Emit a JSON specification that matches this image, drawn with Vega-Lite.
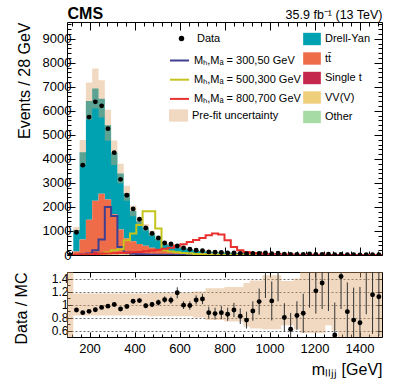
{
  "$schema": "https://vega.github.io/schema/vega-lite/v6.json",
  "padding": {"left": 12, "top": 5, "right": 5, "bottom": 2},
  "config": {
    "font": "Liberation Sans",
    "view": {"stroke": "#000", "strokeWidth": 1},
    "axis": {"domain": false, "grid": false, "tickColor": "#000", "labelColor": "#000", "titleColor": "#000", "titleFontWeight": "normal", "zindex": 1, "tickWidth": 1, "labelFontSize": 13, "titleFontSize": 16, "labelOverlap": false, "labelFlush": false},
    "legend": {"labelFontSize": 11, "labelColor": "#000", "labelLimit": 400, "orient": "none", "padding": 0}
  },
  "datasets": {
    "procs": [
      {"key": "dy", "name": "Drell-Yan", "k": 5},
      {"key": "tt", "name": "tt̄", "k": 4},
      {"key": "st", "name": "Single t", "k": 3},
      {"key": "vv", "name": "VV(V)", "k": 2},
      {"key": "ot", "name": "Other", "k": 1}
    ],
    "sigs": [
      {"key": "a", "name": "Mₕ,Mₐ = 300,50 GeV"},
      {"key": "b", "name": "Mₕ,Mₐ = 500,300 GeV"},
      {"key": "c", "name": "Mₕ,Mₐ = 800,700 GeV"}
    ],
    "hist": [
      {"x": 100, "dy": 0, "tt": 0, "st": 0, "vv": 0, "ot": 0},
      {"x": 128, "dy": 890, "tt": 120, "st": 10, "vv": 15, "ot": 5},
      {"x": 156, "dy": 3630, "tt": 580, "st": 25, "vv": 30, "ot": 10},
      {"x": 184, "dy": 4938, "tt": 1375, "st": 45, "vv": 40, "ot": 12},
      {"x": 212, "dy": 4670, "tt": 2140, "st": 60, "vv": 45, "ot": 15},
      {"x": 240, "dy": 3950, "tt": 2420, "st": 70, "vv": 45, "ot": 15},
      {"x": 268, "dy": 3090, "tt": 2180, "st": 70, "vv": 45, "ot": 15},
      {"x": 296, "dy": 2568, "tt": 1580, "st": 60, "vv": 40, "ot": 12},
      {"x": 324, "dy": 2333, "tt": 960, "st": 50, "vv": 35, "ot": 12},
      {"x": 352, "dy": 1880, "tt": 610, "st": 40, "vv": 30, "ot": 10},
      {"x": 380, "dy": 1255, "tt": 500, "st": 35, "vv": 30, "ot": 10},
      {"x": 408, "dy": 942, "tt": 400, "st": 30, "vv": 25, "ot": 8},
      {"x": 436, "dy": 765, "tt": 330, "st": 25, "vv": 22, "ot": 8},
      {"x": 464, "dy": 593, "tt": 260, "st": 20, "vv": 20, "ot": 7},
      {"x": 492, "dy": 450, "tt": 200, "st": 16, "vv": 18, "ot": 6},
      {"x": 520, "dy": 277, "tt": 150, "st": 13, "vv": 15, "ot": 5},
      {"x": 548, "dy": 270, "tt": 130, "st": 11, "vv": 14, "ot": 5},
      {"x": 576, "dy": 195, "tt": 100, "st": 9, "vv": 12, "ot": 4},
      {"x": 604, "dy": 182, "tt": 85, "st": 8, "vv": 11, "ot": 4},
      {"x": 632, "dy": 152, "tt": 70, "st": 7, "vv": 10, "ot": 3},
      {"x": 660, "dy": 109, "tt": 55, "st": 6, "vv": 9, "ot": 3},
      {"x": 688, "dy": 102, "tt": 48, "st": 5, "vv": 8, "ot": 3},
      {"x": 716, "dy": 92, "tt": 42, "st": 5, "vv": 7, "ot": 2},
      {"x": 744, "dy": 82, "tt": 37, "st": 4, "vv": 7, "ot": 2},
      {"x": 772, "dy": 74, "tt": 32, "st": 4, "vv": 6, "ot": 2},
      {"x": 800, "dy": 66, "tt": 28, "st": 3, "vv": 6, "ot": 2},
      {"x": 828, "dy": 59, "tt": 25, "st": 3, "vv": 5, "ot": 2},
      {"x": 856, "dy": 53, "tt": 22, "st": 3, "vv": 5, "ot": 1},
      {"x": 884, "dy": 49, "tt": 19, "st": 2, "vv": 4, "ot": 1},
      {"x": 912, "dy": 43, "tt": 17, "st": 2, "vv": 4, "ot": 1},
      {"x": 940, "dy": 38, "tt": 15, "st": 2, "vv": 4, "ot": 1},
      {"x": 968, "dy": 34, "tt": 13, "st": 2, "vv": 3, "ot": 1},
      {"x": 996, "dy": 31, "tt": 11, "st": 1, "vv": 3, "ot": 1},
      {"x": 1024, "dy": 27, "tt": 10, "st": 1, "vv": 3, "ot": 1},
      {"x": 1052, "dy": 24, "tt": 9, "st": 1, "vv": 3, "ot": 1},
      {"x": 1080, "dy": 22, "tt": 8, "st": 1, "vv": 2, "ot": 1},
      {"x": 1108, "dy": 19, "tt": 7, "st": 1, "vv": 2, "ot": 1},
      {"x": 1136, "dy": 17, "tt": 6, "st": 1, "vv": 2, "ot": 1},
      {"x": 1164, "dy": 16, "tt": 5, "st": 1, "vv": 2, "ot": 0},
      {"x": 1192, "dy": 13, "tt": 5, "st": 1, "vv": 2, "ot": 0},
      {"x": 1220, "dy": 12, "tt": 4, "st": 1, "vv": 2, "ot": 0},
      {"x": 1248, "dy": 12, "tt": 4, "st": 0, "vv": 1, "ot": 0},
      {"x": 1276, "dy": 11, "tt": 3, "st": 0, "vv": 1, "ot": 0},
      {"x": 1304, "dy": 9.5, "tt": 3, "st": 0, "vv": 1, "ot": 0},
      {"x": 1332, "dy": 8, "tt": 3, "st": 0, "vv": 1, "ot": 0},
      {"x": 1360, "dy": 7.7, "tt": 2, "st": 0, "vv": 1, "ot": 0},
      {"x": 1388, "dy": 6.5, "tt": 2, "st": 0, "vv": 1, "ot": 0},
      {"x": 1416, "dy": 5.5, "tt": 2, "st": 0, "vv": 1, "ot": 0},
      {"x": 1444, "dy": 4.6, "tt": 2, "st": 0, "vv": 1, "ot": 0},
      {"x": 1472, "dy": 4.8, "tt": 1, "st": 0, "vv": 1, "ot": 0},
      {"x": 1500, "dy": 4.8, "tt": 1, "st": 0, "vv": 1, "ot": 0}
    ],
    "mband": [
      {"x": 100, "lo": 0, "hi": 0},
      {"x": 128, "lo": 915, "hi": 1165},
      {"x": 156, "lo": 3762, "hi": 4788},
      {"x": 184, "lo": 5641, "hi": 7179},
      {"x": 212, "lo": 6098, "hi": 7762},
      {"x": 240, "lo": 5720, "hi": 7280},
      {"x": 268, "lo": 4752, "hi": 6048},
      {"x": 296, "lo": 3749, "hi": 4771},
      {"x": 324, "lo": 2983, "hi": 3797},
      {"x": 352, "lo": 2262, "hi": 2878},
      {"x": 380, "lo": 1610, "hi": 2050},
      {"x": 408, "lo": 1236, "hi": 1574},
      {"x": 436, "lo": 1012, "hi": 1288},
      {"x": 464, "lo": 792, "hi": 1008},
      {"x": 492, "lo": 607, "hi": 773},
      {"x": 520, "lo": 405, "hi": 515},
      {"x": 548, "lo": 378, "hi": 482},
      {"x": 576, "lo": 282, "hi": 358},
      {"x": 604, "lo": 255, "hi": 325},
      {"x": 632, "lo": 213, "hi": 271},
      {"x": 660, "lo": 160, "hi": 204},
      {"x": 688, "lo": 136, "hi": 199},
      {"x": 716, "lo": 121, "hi": 178},
      {"x": 744, "lo": 108, "hi": 158},
      {"x": 772, "lo": 97, "hi": 142},
      {"x": 800, "lo": 86, "hi": 126},
      {"x": 828, "lo": 77, "hi": 113},
      {"x": 856, "lo": 69, "hi": 101},
      {"x": 884, "lo": 62, "hi": 90},
      {"x": 912, "lo": 55, "hi": 80},
      {"x": 940, "lo": 49, "hi": 72},
      {"x": 968, "lo": 43, "hi": 64},
      {"x": 996, "lo": 39, "hi": 56},
      {"x": 1024, "lo": 34, "hi": 50},
      {"x": 1052, "lo": 31, "hi": 46},
      {"x": 1080, "lo": 28, "hi": 41},
      {"x": 1108, "lo": 25, "hi": 36},
      {"x": 1136, "lo": 22, "hi": 32},
      {"x": 1164, "lo": 20, "hi": 29},
      {"x": 1192, "lo": 17, "hi": 25},
      {"x": 1220, "lo": 16, "hi": 23},
      {"x": 1248, "lo": 14, "hi": 20},
      {"x": 1276, "lo": 12, "hi": 18},
      {"x": 1304, "lo": 11, "hi": 16},
      {"x": 1332, "lo": 10, "hi": 14},
      {"x": 1360, "lo": 9, "hi": 13},
      {"x": 1388, "lo": 8, "hi": 11},
      {"x": 1416, "lo": 7, "hi": 10},
      {"x": 1444, "lo": 6, "hi": 9},
      {"x": 1472, "lo": 5.6, "hi": 8.2},
      {"x": 1500, "lo": 5.6, "hi": 8.2}
    ],
    "sig": [
      {"x": 100, "a": 0, "b": 0, "c": 0},
      {"x": 128, "a": 0, "b": 0, "c": 10},
      {"x": 156, "a": 10, "b": 5, "c": 20},
      {"x": 184, "a": 60, "b": 10, "c": 30},
      {"x": 212, "a": 200, "b": 20, "c": 40},
      {"x": 240, "a": 650, "b": 60, "c": 50},
      {"x": 268, "a": 2000, "b": 100, "c": 60},
      {"x": 296, "a": 1625, "b": 200, "c": 70},
      {"x": 324, "a": 330, "b": 240, "c": 80},
      {"x": 352, "a": 100, "b": 610, "c": 90},
      {"x": 380, "a": 50, "b": 900, "c": 110},
      {"x": 408, "a": 30, "b": 1250, "c": 130},
      {"x": 436, "a": 20, "b": 1820, "c": 160},
      {"x": 464, "a": 15, "b": 1820, "c": 190},
      {"x": 492, "a": 10, "b": 1100, "c": 220},
      {"x": 520, "a": 8, "b": 195, "c": 260},
      {"x": 548, "a": 6, "b": 150, "c": 300},
      {"x": 576, "a": 5, "b": 110, "c": 380},
      {"x": 604, "a": 4, "b": 80, "c": 450},
      {"x": 632, "a": 3, "b": 60, "c": 540},
      {"x": 660, "a": 2, "b": 45, "c": 620},
      {"x": 688, "a": 2, "b": 35, "c": 710},
      {"x": 716, "a": 1, "b": 25, "c": 820},
      {"x": 744, "a": 1, "b": 20, "c": 890},
      {"x": 772, "a": 1, "b": 15, "c": 850},
      {"x": 800, "a": 1, "b": 12, "c": 610},
      {"x": 828, "a": 1, "b": 10, "c": 330},
      {"x": 856, "a": 0, "b": 8, "c": 200},
      {"x": 884, "a": 0, "b": 6, "c": 120},
      {"x": 912, "a": 0, "b": 5, "c": 85},
      {"x": 940, "a": 0, "b": 4, "c": 60},
      {"x": 968, "a": 0, "b": 3, "c": 45},
      {"x": 996, "a": 0, "b": 3, "c": 35},
      {"x": 1024, "a": 0, "b": 2, "c": 28},
      {"x": 1052, "a": 0, "b": 2, "c": 22},
      {"x": 1080, "a": 0, "b": 2, "c": 18},
      {"x": 1108, "a": 0, "b": 1, "c": 14},
      {"x": 1136, "a": 0, "b": 1, "c": 11},
      {"x": 1164, "a": 0, "b": 1, "c": 9},
      {"x": 1192, "a": 0, "b": 1, "c": 7},
      {"x": 1220, "a": 0, "b": 1, "c": 6},
      {"x": 1248, "a": 0, "b": 1, "c": 5},
      {"x": 1276, "a": 0, "b": 0, "c": 4},
      {"x": 1304, "a": 0, "b": 0, "c": 3},
      {"x": 1332, "a": 0, "b": 0, "c": 3},
      {"x": 1360, "a": 0, "b": 0, "c": 2},
      {"x": 1388, "a": 0, "b": 0, "c": 2},
      {"x": 1416, "a": 0, "b": 0, "c": 2},
      {"x": 1444, "a": 0, "b": 0, "c": 1},
      {"x": 1472, "a": 0, "b": 0, "c": 1},
      {"x": 1500, "a": 0, "b": 0, "c": 1}
    ],
    "obs": [
      {"c": 114, "n": 0}, {"c": 142, "n": 950}, {"c": 170, "n": 3740}, {"c": 198, "n": 5740},
      {"c": 226, "n": 6375}, {"c": 254, "n": 6210}, {"c": 282, "n": 5260}, {"c": 310, "n": 4260},
      {"c": 338, "n": 3150}, {"c": 366, "n": 2490}, {"c": 394, "n": 1920}, {"c": 422, "n": 1490},
      {"c": 450, "n": 1125}, {"c": 478, "n": 900}, {"c": 506, "n": 710}, {"c": 534, "n": 500},
      {"c": 562, "n": 460}, {"c": 590, "n": 375}, {"c": 618, "n": 290}, {"c": 646, "n": 240},
      {"c": 674, "n": 195}, {"c": 702, "n": 180}, {"c": 730, "n": 130}, {"c": 758, "n": 114},
      {"c": 786, "n": 103}, {"c": 814, "n": 89}, {"c": 842, "n": 86}, {"c": 870, "n": 69},
      {"c": 898, "n": 57}, {"c": 926, "n": 60}, {"c": 954, "n": 63}, {"c": 982, "n": 85},
      {"c": 1010, "n": 50}, {"c": 1038, "n": 70}, {"c": 1066, "n": 30}, {"c": 1094, "n": 21},
      {"c": 1122, "n": 25}, {"c": 1150, "n": 23}, {"c": 1178, "n": 42}, {"c": 1206, "n": 25},
      {"c": 1234, "n": 25}, {"c": 1262, "n": 30}, {"c": 1290, "n": 8}, {"c": 1318, "n": 19},
      {"c": 1346, "n": 11}, {"c": 1374, "n": 8}, {"c": 1402, "n": 7}, {"c": 1430, "n": 17},
      {"c": 1458, "n": 9}, {"c": 1486, "n": 8}
    ],
    "ratio": [
      {"c": 142, "r": 0.915, "lo": 0.895, "hi": 0.935},
      {"c": 170, "r": 0.875, "lo": 0.86, "hi": 0.89},
      {"c": 198, "r": 0.895, "lo": 0.88, "hi": 0.91},
      {"c": 226, "r": 0.92, "lo": 0.905, "hi": 0.935},
      {"c": 254, "r": 0.955, "lo": 0.94, "hi": 0.97},
      {"c": 282, "r": 0.975, "lo": 0.96, "hi": 0.99},
      {"c": 310, "r": 1.0, "lo": 0.98, "hi": 1.02},
      {"c": 338, "r": 0.93, "lo": 0.91, "hi": 0.95},
      {"c": 366, "r": 0.97, "lo": 0.945, "hi": 0.995},
      {"c": 394, "r": 1.05, "lo": 1.02, "hi": 1.08},
      {"c": 422, "r": 1.06, "lo": 1.025, "hi": 1.095},
      {"c": 450, "r": 0.98, "lo": 0.945, "hi": 1.015},
      {"c": 478, "r": 1.0, "lo": 0.96, "hi": 1.04},
      {"c": 506, "r": 1.03, "lo": 0.985, "hi": 1.075},
      {"c": 534, "r": 1.075, "lo": 1.025, "hi": 1.125},
      {"c": 562, "r": 1.065, "lo": 1.01, "hi": 1.12},
      {"c": 590, "r": 1.18, "lo": 1.095, "hi": 1.265},
      {"c": 618, "r": 0.99, "lo": 0.93, "hi": 1.05},
      {"c": 646, "r": 0.985, "lo": 0.92, "hi": 1.05},
      {"c": 674, "r": 1.07, "lo": 1.0, "hi": 1.14},
      {"c": 702, "r": 1.085, "lo": 1.005, "hi": 1.165},
      {"c": 730, "r": 0.875, "lo": 0.785, "hi": 0.965},
      {"c": 758, "r": 0.86, "lo": 0.77, "hi": 0.95},
      {"c": 786, "r": 0.875, "lo": 0.775, "hi": 0.975},
      {"c": 814, "r": 0.85, "lo": 0.75, "hi": 0.95},
      {"c": 842, "r": 0.915, "lo": 0.805, "hi": 1.025},
      {"c": 870, "r": 0.82, "lo": 0.7, "hi": 0.94},
      {"c": 898, "r": 0.76, "lo": 0.63, "hi": 0.89},
      {"c": 926, "r": 0.9, "lo": 0.75, "hi": 1.05},
      {"c": 954, "r": 1.045, "lo": 0.845, "hi": 1.245},
      {"c": 982, "r": 1.7, "lo": 1.1, "hi": 2.3},
      {"c": 1010, "r": 1.055, "lo": 0.755, "hi": 1.355},
      {"c": 1038, "r": 1.7, "lo": 1.05, "hi": 2.4},
      {"c": 1066, "r": 0.8, "lo": 0.58, "hi": 1.02},
      {"c": 1094, "r": 0.62, "lo": 0.37, "hi": 0.87},
      {"c": 1122, "r": 0.83, "lo": 0.61, "hi": 1.05},
      {"c": 1150, "r": 0.865, "lo": 0.565, "hi": 1.165},
      {"c": 1178, "r": 1.8, "lo": 0.95, "hi": 2.6},
      {"c": 1206, "r": 1.21, "lo": 0.86, "hi": 1.56},
      {"c": 1234, "r": 1.33, "lo": 0.93, "hi": 1.73},
      {"c": 1262, "r": 1.8, "lo": 0.9, "hi": 2.7},
      {"c": 1290, "r": 0.53, "lo": 0.03, "hi": 1.03},
      {"c": 1318, "r": 1.43, "lo": 0.93, "hi": 1.93},
      {"c": 1346, "r": 0.89, "lo": 0.44, "hi": 1.34},
      {"c": 1374, "r": 0.76, "lo": 0.26, "hi": 1.26},
      {"c": 1402, "r": 0.72, "lo": 0.17, "hi": 1.27},
      {"c": 1430, "r": 2.0, "lo": 0.85, "hi": 3.2},
      {"c": 1458, "r": 1.15, "lo": 0.55, "hi": 1.75},
      {"c": 1486, "r": 1.12, "lo": 0.52, "hi": 1.72}
    ],
    "rband": [
      {"x": 100, "lo": 0.5, "hi": 1.5},
      {"x": 128, "lo": 0.83, "hi": 1.17}, {"x": 156, "lo": 0.83, "hi": 1.17}, {"x": 184, "lo": 0.83, "hi": 1.17},
      {"x": 212, "lo": 0.83, "hi": 1.17}, {"x": 240, "lo": 0.83, "hi": 1.17}, {"x": 268, "lo": 0.83, "hi": 1.17},
      {"x": 296, "lo": 0.83, "hi": 1.17}, {"x": 324, "lo": 0.83, "hi": 1.17}, {"x": 352, "lo": 0.83, "hi": 1.17},
      {"x": 380, "lo": 0.83, "hi": 1.17}, {"x": 408, "lo": 0.83, "hi": 1.17}, {"x": 436, "lo": 0.83, "hi": 1.17},
      {"x": 464, "lo": 0.82, "hi": 1.18}, {"x": 492, "lo": 0.82, "hi": 1.18}, {"x": 520, "lo": 0.82, "hi": 1.18},
      {"x": 548, "lo": 0.82, "hi": 1.18}, {"x": 576, "lo": 0.82, "hi": 1.18}, {"x": 604, "lo": 0.82, "hi": 1.18},
      {"x": 632, "lo": 0.82, "hi": 1.18}, {"x": 660, "lo": 0.8, "hi": 1.2}, {"x": 688, "lo": 0.8, "hi": 1.2},
      {"x": 716, "lo": 0.76, "hi": 1.25}, {"x": 744, "lo": 0.76, "hi": 1.25}, {"x": 772, "lo": 0.76, "hi": 1.25},
      {"x": 800, "lo": 0.74, "hi": 1.27}, {"x": 828, "lo": 0.74, "hi": 1.27}, {"x": 856, "lo": 0.74, "hi": 1.27},
      {"x": 884, "lo": 0.66, "hi": 1.33}, {"x": 912, "lo": 0.63, "hi": 1.37}, {"x": 940, "lo": 0.63, "hi": 1.37},
      {"x": 968, "lo": 0.62, "hi": 1.45}, {"x": 996, "lo": 0.62, "hi": 1.45}, {"x": 1024, "lo": 0.62, "hi": 1.45},
      {"x": 1052, "lo": 0.68, "hi": 1.36}, {"x": 1080, "lo": 0.68, "hi": 1.36}, {"x": 1108, "lo": 0.62, "hi": 1.4},
      {"x": 1136, "lo": 0.56, "hi": 1.5}, {"x": 1164, "lo": 0.56, "hi": 1.5}, {"x": 1192, "lo": 0.56, "hi": 1.5},
      {"x": 1220, "lo": 0.56, "hi": 1.5}, {"x": 1248, "lo": 0.68, "hi": 1.5}, {"x": 1276, "lo": 0.6, "hi": 1.5},
      {"x": 1304, "lo": 0.5, "hi": 1.5}, {"x": 1332, "lo": 0.5, "hi": 1.5}, {"x": 1360, "lo": 0.5, "hi": 1.5},
      {"x": 1388, "lo": 0.5, "hi": 1.5}, {"x": 1416, "lo": 0.5, "hi": 1.5}, {"x": 1444, "lo": 0.5, "hi": 1.5},
      {"x": 1472, "lo": 0.5, "hi": 1.5}, {"x": 1500, "lo": 0.5, "hi": 1.5}
    ]
  },
  "spacing": 8,
  "vconcat": [
    {
      "width": 315,
      "height": 233,
      "layer": [
        {
          "data": {"name": "hist"},
          "transform": [
            {"fold": ["dy", "tt", "st", "vv", "ot"], "as": ["key", "n"]},
            {"lookup": "key", "from": {"data": {"name": "procs"}, "key": "key", "fields": ["name", "k"]}}
          ],
          "mark": {"type": "area", "interpolate": "step-after", "clip": true},
          "encoding": {
            "x": {"field": "x", "type": "quantitative", "scale": {"domain": [100, 1500], "nice": false, "zero": false},
                  "axis": {"orient": "bottom", "values": [200, 400, 600, 800, 1000, 1200, 1400], "tickSize": -8, "labels": false, "title": null}},
            "y": {"field": "n", "type": "quantitative", "stack": "zero", "scale": {"domain": [0, 9700], "nice": false},
                  "axis": {"orient": "left", "values": [0, 1000, 2000, 3000, 4000, 5000, 6000, 7000, 8000, 9000], "tickSize": -8, "labelPadding": 4, "format": "d", "title": "Events / 28 GeV", "titleAnchor": "end", "titlePadding": 10}},
            "color": {"field": "name", "type": "nominal",
                      "scale": {"domain": ["Drell-Yan", "tt̄", "Single t", "VV(V)", "Other"], "range": ["#00a2b1", "#ef6c49", "#c4284d", "#efce7c", "#a7dba5"]},
                      "legend": {"title": null, "symbolType": "M-1,-0.7H1V0.7H-1Z", "symbolSize": 313, "symbolStrokeWidth": 0, "rowPadding": 3.5, "labelOffset": 4, "legendX": 236, "legendY": 8}},
            "order": {"field": "k", "type": "quantitative"}
          }
        },
        {
          "data": {"name": "mband"},
          "mark": {"type": "area", "interpolate": "step-after", "opacity": 0.42, "clip": true},
          "encoding": {
            "x": {"field": "x", "type": "quantitative", "scale": {"domain": [100, 1500], "nice": false, "zero": false},
                  "axis": {"orient": "top", "values": [200, 400, 600, 800, 1000, 1200, 1400], "tickSize": -8, "labels": false, "title": "35.9 fb⁻¹ (13 TeV)", "titleAnchor": "end", "titleFontSize": 12.5, "titlePadding": 0}},
            "y": {"field": "lo", "type": "quantitative", "scale": {"domain": [0, 9700], "nice": false},
                  "axis": {"orient": "right", "values": [0, 1000, 2000, 3000, 4000, 5000, 6000, 7000, 8000, 9000], "tickSize": -8, "labels": false, "title": null}},
            "y2": {"field": "hi"},
            "fill": {"datum": "Pre-fit uncertainty", "type": "nominal", "scale": {"range": ["#dba46a"]},
                     "legend": {"title": null, "symbolType": "M-1,-0.65H1V0.65H-1Z", "symbolSize": 361, "symbolOpacity": 0.42, "symbolStrokeWidth": 0, "labelOffset": 4, "legendX": 102, "legendY": 84}}
          }
        },
        {
          "data": {"name": "sig"},
          "transform": [
            {"fold": ["a", "b", "c"], "as": ["key", "n"]},
            {"lookup": "key", "from": {"data": {"name": "sigs"}, "key": "key", "fields": ["name"]}}
          ],
          "mark": {"type": "line", "interpolate": "step-after", "strokeWidth": 2, "clip": true},
          "encoding": {
            "x": {"field": "x", "type": "quantitative", "scale": {"domain": [100, 1500], "nice": false, "zero": false},
                  "axis": {"orient": "bottom", "values": [120, 160, 240, 280, 320, 360, 440, 480, 520, 560, 640, 680, 720, 760, 840, 880, 920, 960, 1040, 1080, 1120, 1160, 1240, 1280, 1320, 1360, 1440, 1480], "tickSize": -4, "labels": false, "title": null}},
            "y": {"field": "n", "type": "quantitative", "scale": {"domain": [0, 9700], "nice": false},
                  "axis": {"orient": "left", "values": [200, 400, 600, 800, 1200, 1400, 1600, 1800, 2200, 2400, 2600, 2800, 3200, 3400, 3600, 3800, 4200, 4400, 4600, 4800, 5200, 5400, 5600, 5800, 6200, 6400, 6600, 6800, 7200, 7400, 7600, 7800, 8200, 8400, 8600, 8800, 9200, 9400, 9600], "tickSize": -4, "labels": false, "title": null}},
            "stroke": {"field": "name", "type": "nominal",
                       "scale": {"domain": ["Mₕ,Mₐ = 300,50 GeV", "Mₕ,Mₐ = 500,300 GeV", "Mₕ,Mₐ = 800,700 GeV"], "range": ["#3f3f91", "#c4c41c", "#e8312f"]},
                       "legend": {"title": null, "symbolType": "stroke", "symbolSize": 361, "symbolStrokeWidth": 2, "rowPadding": 3.2, "labelOffset": 4, "legendX": 102, "legendY": 28}}
          }
        },
        {
          "data": {"name": "obs"},
          "mark": {"type": "point", "filled": true, "color": "#000", "size": 24, "opacity": 1, "clip": true},
          "encoding": {
            "x": {"field": "c", "type": "quantitative", "scale": {"domain": [100, 1500], "nice": false, "zero": false},
                  "axis": {"orient": "top", "values": [120, 160, 240, 280, 320, 360, 440, 480, 520, 560, 640, 680, 720, 760, 840, 880, 920, 960, 1040, 1080, 1120, 1160, 1240, 1280, 1320, 1360, 1440, 1480], "tickSize": -4, "labels": false, "title": "CMS", "titleAnchor": "start", "titleFontWeight": "bold", "titleFontSize": 16, "titlePadding": 0}},
            "y": {"field": "n", "type": "quantitative", "scale": {"domain": [0, 9700], "nice": false},
                  "axis": {"orient": "right", "values": [200, 400, 600, 800, 1200, 1400, 1600, 1800, 2200, 2400, 2600, 2800, 3200, 3400, 3600, 3800, 4200, 4400, 4600, 4800, 5200, 5400, 5600, 5800, 6200, 6400, 6600, 6800, 7200, 7400, 7600, 7800, 8200, 8400, 8600, 8800, 9200, 9400, 9600], "tickSize": -4, "labels": false, "title": null}},
            "shape": {"datum": "Data", "type": "nominal", "scale": {"range": ["circle"]},
                      "legend": {"title": null, "symbolSize": 30, "symbolFillColor": "#000", "symbolStrokeColor": "#000", "labelOffset": 10, "legendX": 109, "legendY": 11}}
          }
        }
      ],
      "resolve": {"axis": {"x": "independent", "y": "independent"}}
    },
    {
      "width": 315,
      "height": 65,
      "layer": [
        {
          "data": {"name": "rband"},
          "mark": {"type": "area", "interpolate": "step-after", "color": "#dba46a", "opacity": 0.42, "clip": true},
          "encoding": {
            "x": {"field": "x", "type": "quantitative", "scale": {"domain": [100, 1500], "nice": false, "zero": false},
                  "axis": {"orient": "bottom", "values": [200, 400, 600, 800, 1000, 1200, 1400], "format": "d", "tickSize": -5, "labelPadding": 10, "title": "mₗₗⱼⱼ [GeV]", "titleAnchor": "end", "titlePadding": 6}},
            "y": {"field": "lo", "type": "quantitative", "scale": {"domain": [0.5, 1.5], "nice": false, "zero": false},
                  "axis": {"orient": "left", "values": [0.6, 0.8, 1, 1.2, 1.4], "format": "~g", "tickSize": -5, "labelPadding": 4, "labelFontSize": 12, "grid": true, "gridDash": [2, 2], "gridColor": "#444", "gridWidth": 0.8, "title": "Data / MC", "titleAnchor": "end", "titlePadding": 22}},
            "y2": {"field": "hi"}
          }
        },
        {
          "data": {"name": "ratio"},
          "mark": {"type": "rule", "color": "#333", "strokeWidth": 1, "clip": true},
          "encoding": {
            "x": {"field": "c", "type": "quantitative", "scale": {"domain": [100, 1500], "nice": false, "zero": false},
                  "axis": {"orient": "top", "values": [200, 400, 600, 800, 1000, 1200, 1400], "tickSize": -5, "labels": false, "title": null}},
            "y": {"field": "lo", "type": "quantitative", "scale": {"domain": [0.5, 1.5], "nice": false, "zero": false},
                  "axis": {"orient": "right", "values": [0.6, 0.8, 1, 1.2, 1.4], "tickSize": -5, "labels": false, "title": null}},
            "y2": {"field": "hi"}
          }
        },
        {
          "data": {"name": "ratio"},
          "mark": {"type": "point", "filled": true, "color": "#000", "size": 24, "opacity": 1, "clip": true},
          "encoding": {
            "x": {"field": "c", "type": "quantitative", "scale": {"domain": [100, 1500], "nice": false, "zero": false},
                  "axis": {"orient": "bottom", "values": [120, 160, 240, 280, 320, 360, 440, 480, 520, 560, 640, 680, 720, 760, 840, 880, 920, 960, 1040, 1080, 1120, 1160, 1240, 1280, 1320, 1360, 1440, 1480], "tickSize": -3, "labels": false, "title": null}},
            "y": {"field": "r", "type": "quantitative", "scale": {"domain": [0.5, 1.5], "nice": false, "zero": false},
                  "axis": {"orient": "left", "values": [0.5, 0.7, 0.9, 1.1, 1.3, 1.5], "tickSize": -3, "labels": false, "title": null}}
          }
        }
      ],
      "resolve": {"axis": {"x": "independent", "y": "independent"}}
    }
  ]
}
